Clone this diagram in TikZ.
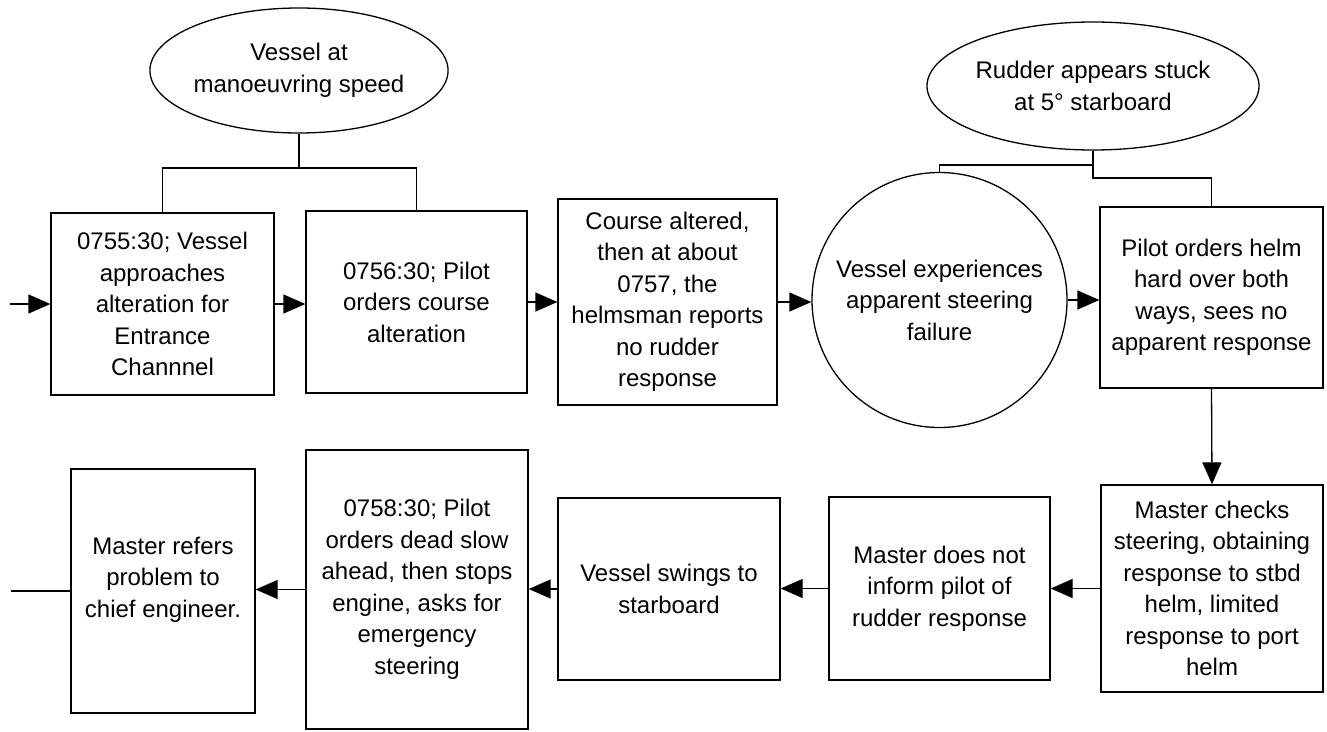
\documentclass[tikz,border=0pt]{standalone}
\usepackage{fontspec}
\setmainfont{Liberation Sans}
\usepackage{tikz}
\usetikzlibrary{positioning,shapes.geometric,arrows.meta}

\begin{document}
\begin{tikzpicture}[x=1pt,y=-1pt,
  line width=1.3pt,
  evbox/.style={draw, rectangle, inner sep=0pt, align=center, font=\fontsize{24}{31.5}\selectfont},
  condell/.style={draw, ellipse, inner sep=0pt, align=center, font=\fontsize{24}{31.5}\selectfont},
  arr/.style={-{Triangle[length=22pt,width=19pt]}}]
\useasboundingbox (0,0) rectangle (1327,731);

\node[condell, minimum width=282pt, minimum height=125pt] at (299,70.5) (speed) {Vessel at\\manoeuvring speed};
\node[condell, minimum width=288pt, minimum height=128pt] at (1093,86) (stuck) {Rudder appears stuck\\at 5° starboard};

\node[evbox, minimum width=223pt, minimum height=182pt] at (162.5,304) (approach) {0755:30; Vessel\\approaches\\alteration for\\Entrance\\Channnel};
\node[evbox, minimum width=221pt, minimum height=182pt] at (416.5,302) (orders) {0756:30; Pilot\\orders course\\alteration};
\node[evbox, minimum width=219pt, minimum height=206pt] at (667.5,302) (altered) {Course altered,\\then at about\\0757, the\\helmsman reports\\no rudder\\response};
\node[draw, circle, inner sep=0pt, minimum size=255pt, align=center, font=\fontsize{24}{31.5}\selectfont] at (939.5,300) (failure) {Vessel experiences\\apparent steering\\failure};
\node[evbox, minimum width=223pt, minimum height=181pt] at (1211.5,297.5) (hardover) {Pilot orders helm\\hard over both\\ways, sees no\\apparent response};

\node[evbox, minimum width=222pt, minimum height=207pt] at (1212,588.5) (checks) {Master checks\\steering, obtaining\\response to stbd\\helm, limited\\response to port\\helm};
\node[evbox, minimum width=221pt, minimum height=183pt] at (939.5,588.5) (noinform) {Master does not\\inform pilot of\\rudder response};
\node[evbox, minimum width=222pt, minimum height=182pt] at (669,589) (swings) {Vessel swings to\\starboard};
\node[evbox, minimum width=222pt, minimum height=279pt] at (417,589.5) (deadslow) {0758:30; Pilot\\orders dead slow\\ahead, then stops\\engine, asks for\\emergency\\steering};
\node[evbox, minimum width=184pt, minimum height=244pt, text depth=28pt] at (163,591) (refers) {Master refers\\problem to\\chief engineer.};

\coordinate (fork1) at (299,168);
\coordinate (fork2) at (1093,165);
\coordinate (fork3) at (1093,178);
\coordinate (start) at (10,304);
\coordinate (finish) at (11,591);

\draw (speed.south) -- (fork1);
\draw (approach.north) |- (fork1) -| (orders.north);
\draw (stuck.south) -- (fork2) -| (failure.north);
\draw (fork2) -- (fork3) -| (hardover.north);

\draw[arr] (start) -- (approach.west);
\draw[arr] (approach.east) -- (approach.east -| orders.west);
\draw[arr] (orders.east) -- (orders.east -| altered.west);
\draw[arr] (altered.east) -- (altered.east -| failure.west);
\draw[arr] (failure.east) -- (failure.east -| hardover.west);
\draw[arr] (hardover.south) -- (checks.north);
\draw[arr] (checks.west) -- (checks.west -| noinform.east);
\draw[arr] (noinform.west) -- (noinform.west -| swings.east);
\draw[arr] (swings.west) -- (swings.west -| deadslow.east);
\draw[arr] (deadslow.west) -- (deadslow.west -| refers.east);
\draw (refers.west) -- (finish);
\end{tikzpicture}
\end{document}
